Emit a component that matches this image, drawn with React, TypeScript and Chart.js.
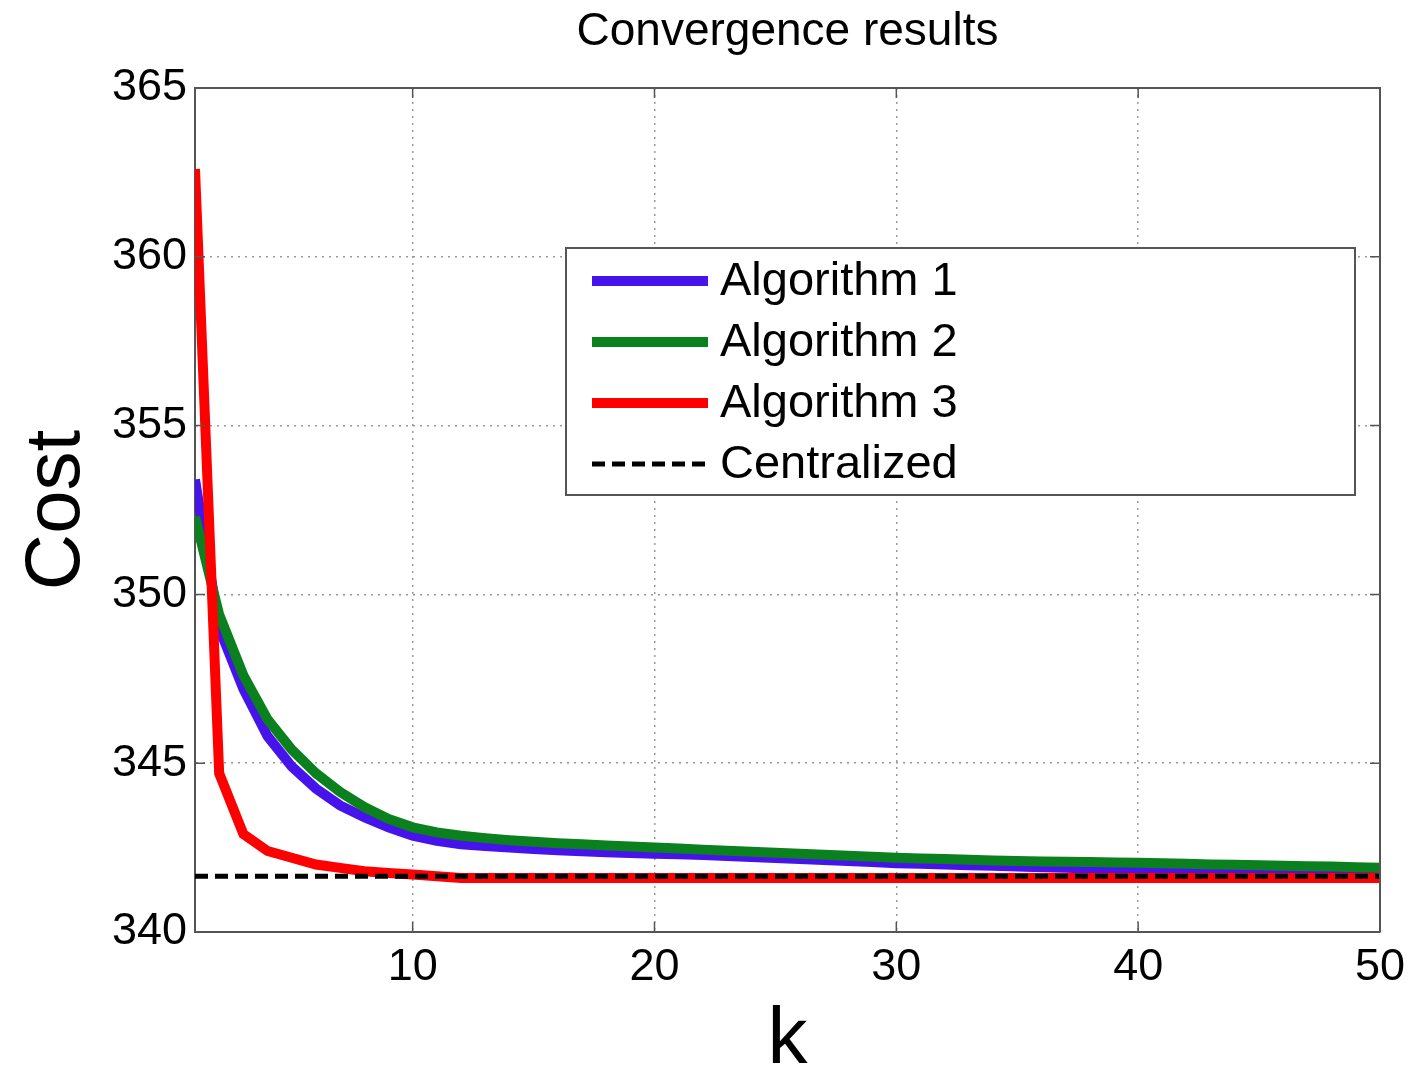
import React, { useEffect, useRef } from "react";
import { Chart, registerables } from "chart.js";

Chart.register(...registerables);

const kValues: number[] = Array.from({ length: 50 }, (_, i) => i + 1);

const algorithm1: number[] = [
  353.4, 349.0, 347.2, 345.8, 344.9, 344.25, 343.75, 343.4, 343.1, 342.85,
  342.7, 342.6, 342.55, 342.5, 342.46, 342.42, 342.39, 342.36, 342.34, 342.32,
  342.3, 342.28, 342.25, 342.22, 342.19, 342.16, 342.13, 342.1, 342.07, 342.04,
  342.02, 342.0, 341.98, 341.96, 341.94, 341.92, 341.9, 341.88, 341.86, 341.85,
  341.84, 341.83, 341.82, 341.81, 341.8, 341.79, 341.78, 341.77, 341.76, 341.75,
];

const algorithm2: number[] = [
  352.3, 349.4, 347.6, 346.3, 345.4, 344.7, 344.15, 343.7, 343.35, 343.1,
  342.95, 342.85, 342.78, 342.72, 342.67, 342.63, 342.6, 342.56, 342.53, 342.5,
  342.47, 342.44, 342.41, 342.38, 342.35, 342.32, 342.29, 342.26, 342.23, 342.2,
  342.18, 342.16, 342.14, 342.12, 342.1, 342.09, 342.08, 342.07, 342.06, 342.05,
  342.04, 342.02, 342.0, 341.99, 341.98, 341.96, 341.95, 341.94, 341.92, 341.9,
];

const algorithm3: number[] = [
  362.6, 344.7, 342.9, 342.4, 342.2, 342.0, 341.9, 341.8, 341.75, 341.7,
  341.65, 341.6, 341.6, 341.6, 341.6, 341.6, 341.6, 341.6, 341.6, 341.6,
  341.6, 341.6, 341.6, 341.6, 341.6, 341.6, 341.6, 341.6, 341.6, 341.6,
  341.6, 341.6, 341.6, 341.6, 341.6, 341.6, 341.6, 341.6, 341.6, 341.6,
  341.6, 341.6, 341.6, 341.6, 341.6, 341.6, 341.6, 341.6, 341.6, 341.6,
];

const centralized: number[] = kValues.map(() => 341.65);

const seriesLabels: string[] = ["Algorithm 1", "Algorithm 2", "Algorithm 3", "Centralized"];
const xTickValues: number[] = [10, 20, 30, 40, 50];
const yTickValues: number[] = [340, 345, 350, 355, 360, 365];

const FONT = "'Liberation Sans', Arial, Helvetica, sans-serif";
const AXIS_COLOR = "#555555";

const boxPlugin = {
  id: "matlabBox",
  afterDatasetsDraw(chart: any) {
    const { ctx, chartArea } = chart;
    const { left, right, top, bottom } = chartArea;
    ctx.save();
    ctx.strokeStyle = AXIS_COLOR;
    ctx.lineWidth = 2;
    ctx.setLineDash([]);
    ctx.beginPath();
    ctx.moveTo(left, top);
    ctx.lineTo(right, top);
    ctx.lineTo(right, bottom);
    ctx.stroke();
    // inward tick marks
    const xs = chart.scales.x;
    const ys = chart.scales.y;
    const tl = 10;
    ctx.lineWidth = 1.5;
    ctx.beginPath();
    xTickValues.forEach((v) => {
      const px = xs.getPixelForValue(v);
      ctx.moveTo(px, bottom);
      ctx.lineTo(px, bottom - tl);
      ctx.moveTo(px, top);
      ctx.lineTo(px, top + tl);
    });
    yTickValues.forEach((v) => {
      const py = ys.getPixelForValue(v);
      ctx.moveTo(left, py);
      ctx.lineTo(left + tl, py);
      ctx.moveTo(right, py);
      ctx.lineTo(right - tl, py);
    });
    ctx.stroke();

    // legend
    const bx = 566, by = 248, bw = 789, bh = 247;
    ctx.fillStyle = "#ffffff";
    ctx.fillRect(bx, by, bw, bh);
    ctx.strokeStyle = AXIS_COLOR;
    ctx.lineWidth = 2;
    ctx.strokeRect(bx, by, bw, bh);
    const rowY = [281, 342, 403, 464];
    chart.data.datasets.forEach((ds: any, i: number) => {
      const y = rowY[i];
      ctx.save();
      ctx.strokeStyle = ds.borderColor;
      ctx.lineWidth = ds.borderWidth;
      ctx.setLineDash(ds.borderDash || []);
      ctx.beginPath();
      ctx.moveTo(592, y);
      ctx.lineTo(708, y);
      ctx.stroke();
      ctx.restore();
      ctx.fillStyle = "#000000";
      ctx.font = `47px ${FONT}`;
      ctx.textAlign = "left";
      ctx.textBaseline = "middle";
      ctx.fillText(ds.label, 720, y + 1);
    });
    ctx.restore();
  },
};

export default function App() {
  const canvasRef = useRef<HTMLCanvasElement | null>(null);

  useEffect(() => {
    if (!canvasRef.current) return;
    const chart = new Chart(canvasRef.current, {
      type: "line",
      data: {
        labels: kValues,
        datasets: [
          {
            label: seriesLabels[0],
            data: algorithm1,
            borderColor: "#4614EB",
            borderWidth: 10,
            pointRadius: 0,
            tension: 0,
            order: 3,
          },
          {
            label: seriesLabels[1],
            data: algorithm2,
            borderColor: "#0A801E",
            borderWidth: 10,
            pointRadius: 0,
            tension: 0,
            order: 2,
          },
          {
            label: seriesLabels[2],
            data: algorithm3,
            borderColor: "#FF0000",
            borderWidth: 10,
            pointRadius: 0,
            tension: 0,
            order: 1,
          },
          {
            label: seriesLabels[3],
            data: centralized,
            borderColor: "#000000",
            borderWidth: 5,
            borderDash: [13, 7],
            pointRadius: 0,
            tension: 0,
            order: 0,
          },
        ],
      },
      plugins: [boxPlugin],
      options: {
        animation: false,
        responsive: false,
        maintainAspectRatio: false,
        layout: { padding: { left: 0, right: 32, top: 0, bottom: 0 } },
        plugins: {
          legend: { display: false },
          tooltip: { enabled: false },
          title: {
            display: true,
            fullSize: false,
            text: "Convergence results",
            color: "#000000",
            font: { family: FONT, size: 46, weight: "normal" },
            padding: { top: 5, bottom: 27.8 },
          },
        },
        scales: {
          x: {
            type: "linear",
            min: 1,
            max: 50,
            afterBuildTicks: (scale: any) => {
              scale.ticks = xTickValues.map((v) => ({ value: v }));
            },
            afterFit: (scale: any) => {
              scale.height = 149;
              scale.paddingLeft = 0;
              scale.paddingRight = 0;
            },
            ticks: {
              color: "#000000",
              font: { family: FONT, size: 45 },
              padding: 9,
              maxRotation: 0,
              autoSkip: false,
            },
            grid: { color: "#9a9a9a", lineWidth: 1.5, drawTicks: false },
            border: { display: true, color: AXIS_COLOR, width: 2, dash: [2, 5] },
            title: {
              display: true,
              text: "k",
              color: "#000000",
              font: { family: FONT, size: 80, lineHeight: 1.0 },
              padding: { top: 0, bottom: 0 },
            },
          },
          y: {
            type: "linear",
            min: 340,
            max: 365,
            afterBuildTicks: (scale: any) => {
              scale.ticks = yTickValues.map((v) => ({ value: v }));
            },
            afterFit: (scale: any) => {
              scale.width = 195;
              scale.paddingTop = 0;
              scale.paddingBottom = 0;
            },
            ticks: {
              color: "#000000",
              font: { family: FONT, size: 45 },
              padding: 8,
            },
            grid: { color: "#9a9a9a", lineWidth: 1.5, drawTicks: false },
            border: { display: true, color: AXIS_COLOR, width: 2, dash: [2, 5] },
            title: {
              display: true,
              text: "Cost",
              color: "#000000",
              font: { family: FONT, size: 78 },
              padding: { top: 11, bottom: 0 },
            },
          },
        },
      },
    });
    return () => chart.destroy();
  }, []);

  return (
    <div style={{ position: "absolute", left: 0, top: 0, width: 1412, height: 1081, background: "#ffffff" }}>
      <canvas ref={canvasRef} width={1412} height={1081} style={{ width: 1412, height: 1081 }} />
    </div>
  );
}
